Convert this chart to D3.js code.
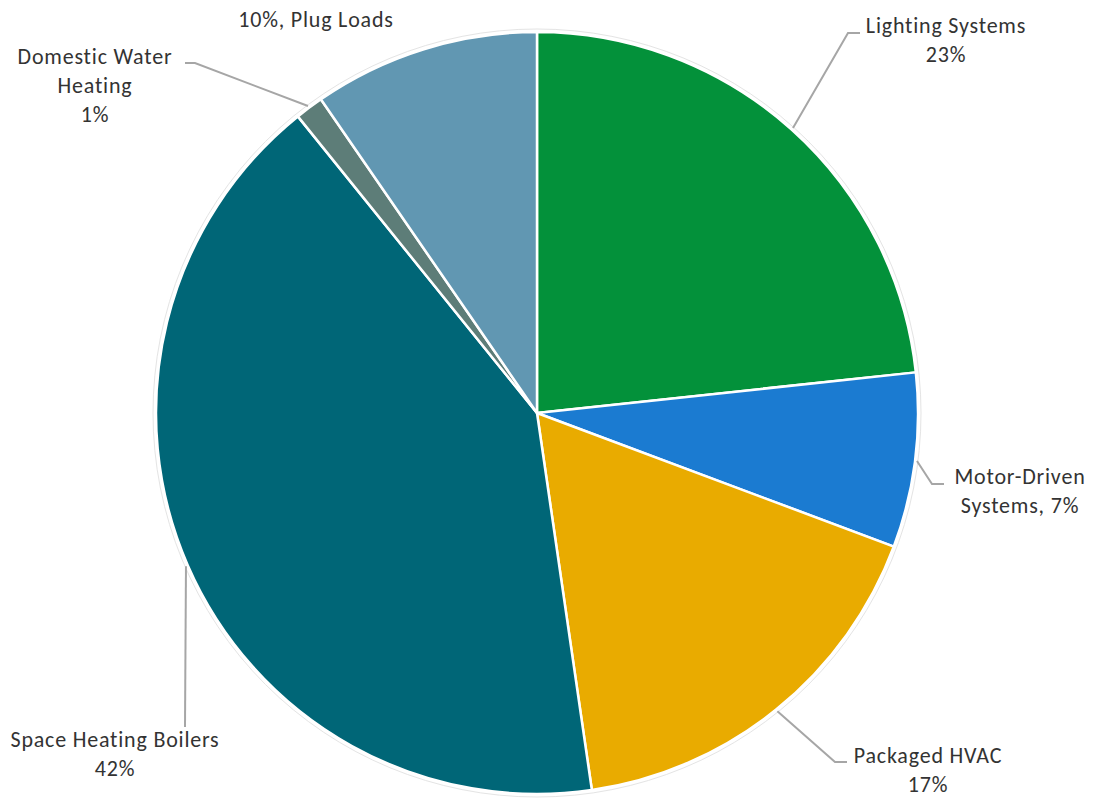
<!DOCTYPE html>
<html>
<head>
<meta charset="utf-8">
<script src="https://cdn.jsdelivr.net/npm/d3@7"></script>
<style>
  body { margin: 0; background: #fff; }
  svg { display: block; }
  .slice-label { font-family: Calibri, Carlito, Lato, sans-serif; font-size: 22px; letter-spacing: 0.8px; fill: #333; }
</style>
</head>
<body>
<svg id="chart" width="1098" height="802"></svg>
<script>
// data
const categories = ['Lighting Systems', 'Motor-Driven Systems', 'Packaged HVAC', 'Space Heating Boilers', 'Domestic Water Heating', 'Plug Loads'];
const shares = [23.3, 7.4, 17.0, 41.5, 1.2, 9.6];
const colors = ['#03913a', '#1b7bd1', '#e9ab00', '#006677', '#5d7d78', '#6197b2'];

// label placement (text lines use {pct} for the rounded share)
const labelLines = [
    ['Lighting Systems', '{pct}'],
    ['Motor-Driven', 'Systems, {pct}'],
    ['Packaged HVAC', '{pct}'],
    ['Space Heating Boilers', '{pct}'],
    ['Domestic Water', 'Heating', '{pct}'],
    ['{pct}, Plug Loads']
];
const labelPos = [
    {x: 946, y: 33, elbow: [848, 33], end: [860, 33]},
    {x: 1020, y: 484, elbow: [932, 484], end: [944, 484]},
    {x: 928, y: 763, elbow: [835, 762], end: [847, 762]},
    {x: 115, y: 747, elbow: [185, 727], end: [185, 727]},
    {x: 95, y: 64, elbow: [195, 63], end: [185, 63]},
    {x: 316, y: 27, elbow: null, end: null}
];

const width = 1098, height = 802;
const cx = 537, cy = 413, radius = 381;
const lineGap = 29;

const svg = d3.select('#chart');

const data = categories.map((name, i) => ({name, value: shares[i], color: colors[i], i}));

const pie = d3.pie()
    .sort(null)
    .value(d => d.value);

const arc = d3.arc()
    .innerRadius(0)
    .outerRadius(radius);

const arcs = pie(data);

const g = svg.append('g')
    .attr('transform', `translate(${cx}, ${cy})`);

// faint outer rim
g.append('circle')
    .attr('r', radius + 3)
    .attr('fill', 'none')
    .attr('stroke', '#e4e4e4')
    .attr('stroke-width', 1);

g.selectAll('path.slice')
    .data(arcs)
    .enter()
    .append('path')
        .classed('slice', true)
        .attr('d', arc)
        .attr('fill', d => d.data.color)
        .attr('stroke', 'white')
        .attr('stroke-width', 2.5)
        .attr('stroke-linejoin', 'round');

// leader lines
arcs.forEach((d, i) => {
    const pos = labelPos[i];
    if (!pos.elbow) return;
    const mid = (d.startAngle + d.endAngle) / 2;
    const sx = cx + (radius + 2) * Math.sin(mid);
    const sy = cy - (radius + 2) * Math.cos(mid);
    svg.append('polyline')
        .attr('points', [[sx, sy], pos.elbow, pos.end].map(p => p.join(',')).join(' '))
        .attr('fill', 'none')
        .attr('stroke', '#a6a6a6')
        .attr('stroke-width', 2);
});

// labels
arcs.forEach((d, i) => {
    const pos = labelPos[i];
    const pct = Math.round(d.data.value) + '%';
    const text = svg.append('text')
        .classed('slice-label', true)
        .attr('text-anchor', 'middle');
    labelLines[i].forEach((line, k) => {
        text.append('tspan')
            .attr('x', pos.x)
            .attr('y', pos.y + k * lineGap)
            .text(line.replace('{pct}', pct));
    });
});
</script>
</body>
</html>
